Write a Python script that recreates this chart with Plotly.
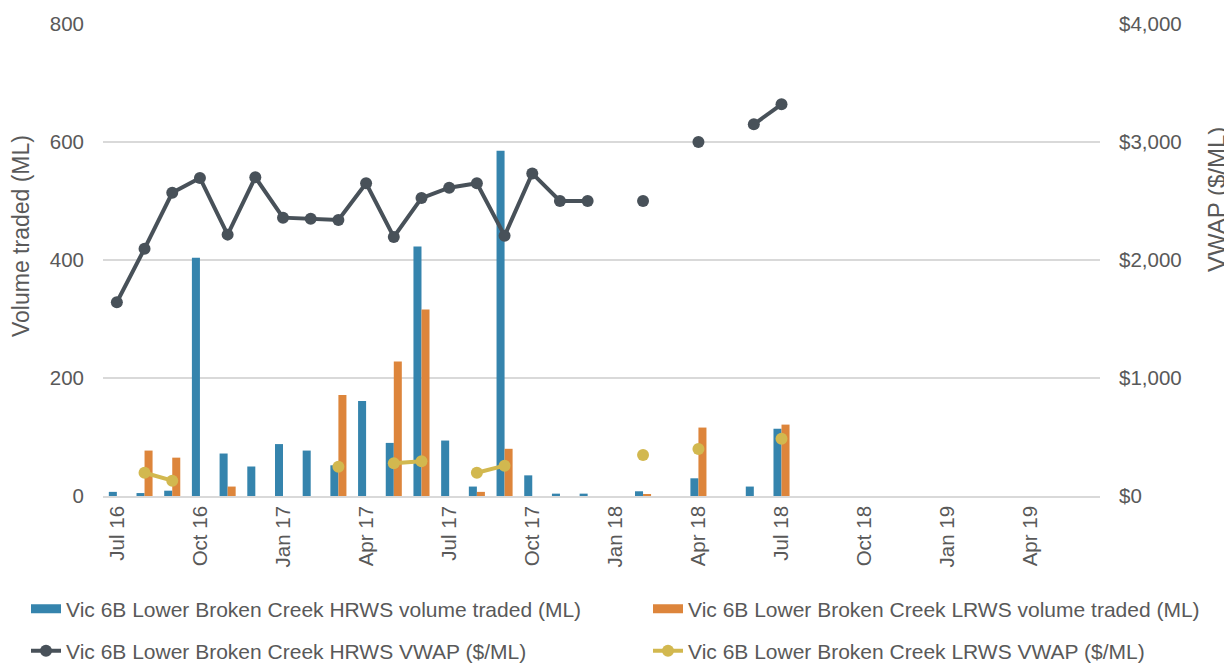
import plotly.graph_objects as go

months = ["Jul 16", "Aug 16", "Sep 16", "Oct 16", "Nov 16", "Dec 16",
          "Jan 17", "Feb 17", "Mar 17", "Apr 17", "May 17", "Jun 17",
          "Jul 17", "Aug 17", "Sep 17", "Oct 17", "Nov 17", "Dec 17",
          "Jan 18", "Feb 18", "Mar 18", "Apr 18", "May 18", "Jun 18",
          "Jul 18", "Aug 18", "Sep 18", "Oct 18", "Nov 18", "Dec 18",
          "Jan 19", "Feb 19", "Mar 19", "Apr 19", "May 19", "Jun 19"]

N = None
hrws_volume = [7, 5, 9, 404, 72, 50, 88, 77, 52, 161, 90, 423,
               94, 16, 585, 35, 4, 4, N, 8, N, 30, N, 16,
               114, N, N, N, N, N, N, N, N, N, N, N]
lrws_volume = [N, 77, 65, N, 16, N, N, N, 171, N, 228, 316,
               N, 7, 80, N, N, N, N, 3, N, 116, N, N,
               121, N, N, N, N, N, N, N, N, N, N, N]
hrws_vwap = [1642, 2096, 2570, 2695, 2215, 2701, 2359, 2350, 2339, 2650, 2195, 2525,
             2613, 2650, 2206, 2734, 2500, 2500, N, 2500, N, 3000, N, 3150,
             3319, N, N, N, N, N, N, N, N, N, N, N]
lrws_vwap = [N, 197, 130, N, N, N, N, N, 248, N, 277, 294,
             N, 197, 257, N, N, N, N, 347, N, 398, N, N,
             486, N, N, N, N, N, N, N, N, N, N, N]

tick_months = months[::3]
vol_ticks = [0, 200, 400, 600, 800]
vwap_ticks = [0, 1000, 2000, 3000, 4000]
vwap_labels = ["$" + format(v, ",") for v in vwap_ticks]

names = ["Vic 6B Lower Broken Creek HRWS volume traded (ML)",
         "Vic 6B Lower Broken Creek LRWS volume traded (ML)",
         "Vic 6B Lower Broken Creek HRWS VWAP ($/ML)",
         "Vic 6B Lower Broken Creek LRWS VWAP ($/ML)"]

BLUE = "#3584ad"
ORANGE = "#dd853b"
DARK = "#485159"
GOLD = "#d2b84f"
TXT = "#595959"
GRID = "#d9d9d9"
FONT = "Liberation Sans, Arial, sans-serif"

# The page body has an 8px margin; figure coordinates are page - 8.
W, H = 1224, 655
PL, PR, PT, PB = 95, 1092, 16, 488

fig = go.Figure()
fig.add_trace(go.Bar(x=months, y=hrws_volume, name=names[0], marker_color=BLUE,
                     marker_line_width=0, showlegend=False))
fig.add_trace(go.Bar(x=months, y=lrws_volume, name=names[1], marker_color=ORANGE,
                     marker_line_width=0, showlegend=False))
# legend proxies giving the wide bar swatch of the reference
fig.add_trace(go.Scatter(x=[None], y=[None], name=names[0], mode="lines",
                         line=dict(color=BLUE, width=9), legend="legend",
                         hoverinfo="skip"))
fig.add_trace(go.Scatter(x=[None], y=[None], name=names[1], mode="lines",
                         line=dict(color=ORANGE, width=9), legend="legend2",
                         hoverinfo="skip"))
fig.add_trace(go.Scatter(x=months, y=hrws_vwap, name=names[2], yaxis="y2",
                         mode="lines+markers", connectgaps=False,
                         line=dict(color=DARK, width=4),
                         marker=dict(color=DARK, size=12), legend="legend3"))
fig.add_trace(go.Scatter(x=months, y=lrws_vwap, name=names[3], yaxis="y2",
                         mode="lines+markers", connectgaps=False,
                         line=dict(color=GOLD, width=4),
                         marker=dict(color=GOLD, size=12), legend="legend4"))


def leg(xpx, ypx):
    return dict(orientation="h", xref="container", yref="container",
                x=xpx / W, y=1 - ypx / H, xanchor="left", yanchor="middle",
                font=dict(family=FONT, size=21, color=TXT),
                bgcolor="rgba(0,0,0,0)", itemwidth=30)


fig.update_layout(
    width=W, height=H,
    margin=dict(l=PL, r=W - PR, t=PT, b=H - PB, autoexpand=False),
    paper_bgcolor="white", plot_bgcolor="white",
    font=dict(family=FONT, size=20, color=TXT),
    barmode="group", bargap=0.42, bargroupgap=0,
    showlegend=True,
    legend=leg(18, 601),
    legend2=leg(640, 601),
    legend3=leg(18, 643),
    legend4=leg(640, 643),
    xaxis=dict(type="category", range=[-0.5, 35.5], automargin=False,
               tickmode="array", tickvals=tick_months, ticktext=tick_months,
               tickangle=-90, showgrid=False, ticks="",
               showline=True, linecolor=GRID, linewidth=1.5,
               tickfont=dict(family=FONT, size=20.5, color=TXT)),
    yaxis=dict(range=[0, 800], tickvals=vol_ticks, showgrid=True, automargin=False,
               gridcolor=GRID, gridwidth=1.5, zeroline=False, ticks="",
               ticklabelstandoff=18,
               tickfont=dict(family=FONT, size=20.5, color=TXT)),
    yaxis2=dict(range=[0, 4000], tickmode="array", tickvals=vwap_ticks,
                ticktext=vwap_labels, overlaying="y", automargin=False,
                side="right", showgrid=False, zeroline=False, ticks="",
                ticklabelstandoff=18,
                tickfont=dict(family=FONT, size=20.5, color=TXT)),
    annotations=[
        dict(text="Volume traded (ML)", xref="paper", yref="paper",
             x=(13 - PL) / (PR - PL), y=(PB - 228) / (PB - PT), textangle=-90,
             showarrow=False, xanchor="center", yanchor="middle",
             font=dict(family=FONT, size=23, color=TXT)),
        dict(text="VWAP ($/ML)", xref="paper", yref="paper",
             x=(1208 - PL) / (PR - PL), y=(PB - 192) / (PB - PT), textangle=-90,
             showarrow=False, xanchor="center", yanchor="middle",
             font=dict(family=FONT, size=24, color=TXT)),
    ],
)

fig.write_html("out.html")
